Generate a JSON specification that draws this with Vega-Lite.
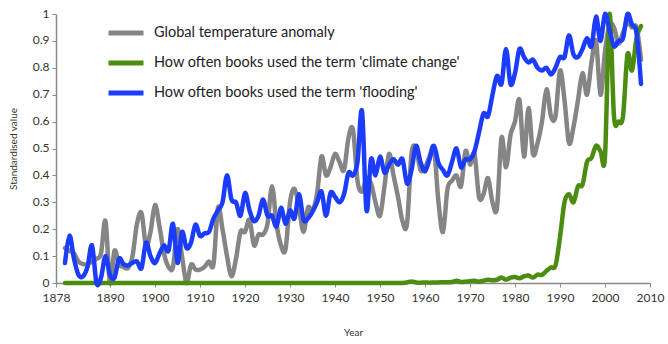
{
  "$schema": "https://vega.github.io/schema/vega-lite/v6.json",
  "width": 594,
  "height": 269,
  "autosize": {"type": "none"},
  "padding": {"left": 56, "top": 14, "right": 18, "bottom": 61},
  "background": "white",
  "config": {"view": {"stroke": null}, "font": "Lato"},
  "data": {"values": [
    {"year":1880,"temp":0.13,"climate":0,"flooding":0.074},
    {"year":1881,"temp":0.12,"climate":0,"flooding":0.176},
    {"year":1882,"temp":0.11,"climate":0,"flooding":0.09},
    {"year":1883,"temp":0.08,"climate":0,"flooding":0.03},
    {"year":1884,"temp":0.07,"climate":0,"flooding":0.025},
    {"year":1885,"temp":0.07,"climate":0,"flooding":0.06},
    {"year":1886,"temp":0.08,"climate":0,"flooding":0.14},
    {"year":1887,"temp":0.09,"climate":0,"flooding":0.0},
    {"year":1888,"temp":0.11,"climate":0,"flooding":0.02},
    {"year":1889,"temp":0.23,"climate":0,"flooding":0.10},
    {"year":1890,"temp":0.0,"climate":0,"flooding":0.03},
    {"year":1891,"temp":0.12,"climate":0,"flooding":0.02},
    {"year":1892,"temp":0.07,"climate":0,"flooding":0.09},
    {"year":1893,"temp":0.06,"climate":0,"flooding":0.07},
    {"year":1894,"temp":0.056,"climate":0,"flooding":0.065},
    {"year":1895,"temp":0.10,"climate":0,"flooding":0.075},
    {"year":1896,"temp":0.22,"climate":0,"flooding":0.08},
    {"year":1897,"temp":0.26,"climate":0,"flooding":0.055},
    {"year":1898,"temp":0.14,"climate":0,"flooding":0.15},
    {"year":1899,"temp":0.19,"climate":0,"flooding":0.10},
    {"year":1900,"temp":0.29,"climate":0,"flooding":0.074},
    {"year":1901,"temp":0.21,"climate":0,"flooding":0.11},
    {"year":1902,"temp":0.11,"climate":0,"flooding":0.14},
    {"year":1903,"temp":0.06,"climate":0,"flooding":0.12},
    {"year":1904,"temp":0.06,"climate":0,"flooding":0.22},
    {"year":1905,"temp":0.20,"climate":0,"flooding":0.075},
    {"year":1906,"temp":0.10,"climate":0,"flooding":0.19},
    {"year":1907,"temp":0.0,"climate":0,"flooding":0.13},
    {"year":1908,"temp":0.068,"climate":0,"flooding":0.15},
    {"year":1909,"temp":0.05,"climate":0,"flooding":0.217},
    {"year":1910,"temp":0.05,"climate":0,"flooding":0.175},
    {"year":1911,"temp":0.06,"climate":0,"flooding":0.185},
    {"year":1912,"temp":0.08,"climate":0,"flooding":0.19},
    {"year":1913,"temp":0.07,"climate":0,"flooding":0.24},
    {"year":1914,"temp":0.28,"climate":0,"flooding":0.27},
    {"year":1915,"temp":0.20,"climate":0,"flooding":0.30},
    {"year":1916,"temp":0.10,"climate":0,"flooding":0.40},
    {"year":1917,"temp":0.025,"climate":0,"flooding":0.31},
    {"year":1918,"temp":0.09,"climate":0,"flooding":0.30},
    {"year":1919,"temp":0.19,"climate":0,"flooding":0.25},
    {"year":1920,"temp":0.19,"climate":0,"flooding":0.335},
    {"year":1921,"temp":0.235,"climate":0,"flooding":0.27},
    {"year":1922,"temp":0.14,"climate":0,"flooding":0.23},
    {"year":1923,"temp":0.18,"climate":0,"flooding":0.25},
    {"year":1924,"temp":0.18,"climate":0,"flooding":0.31},
    {"year":1925,"temp":0.22,"climate":0,"flooding":0.25},
    {"year":1926,"temp":0.36,"climate":0,"flooding":0.25},
    {"year":1927,"temp":0.22,"climate":0,"flooding":0.21},
    {"year":1928,"temp":0.14,"climate":0,"flooding":0.28},
    {"year":1929,"temp":0.125,"climate":0,"flooding":0.22},
    {"year":1930,"temp":0.30,"climate":0,"flooding":0.27},
    {"year":1931,"temp":0.35,"climate":0,"flooding":0.24},
    {"year":1932,"temp":0.28,"climate":0,"flooding":0.33},
    {"year":1933,"temp":0.19,"climate":0,"flooding":0.235},
    {"year":1934,"temp":0.28,"climate":0,"flooding":0.24},
    {"year":1935,"temp":0.27,"climate":0,"flooding":0.265},
    {"year":1936,"temp":0.33,"climate":0,"flooding":0.30},
    {"year":1937,"temp":0.47,"climate":0,"flooding":0.34},
    {"year":1938,"temp":0.40,"climate":0,"flooding":0.25},
    {"year":1939,"temp":0.43,"climate":0,"flooding":0.335},
    {"year":1940,"temp":0.48,"climate":0,"flooding":0.32},
    {"year":1941,"temp":0.45,"climate":0,"flooding":0.30},
    {"year":1942,"temp":0.42,"climate":0,"flooding":0.33},
    {"year":1943,"temp":0.54,"climate":0,"flooding":0.41},
    {"year":1944,"temp":0.57,"climate":0,"flooding":0.40},
    {"year":1945,"temp":0.38,"climate":0,"flooding":0.45},
    {"year":1946,"temp":0.34,"climate":0,"flooding":0.64},
    {"year":1947,"temp":0.39,"climate":0,"flooding":0.27},
    {"year":1948,"temp":0.37,"climate":0,"flooding":0.46},
    {"year":1949,"temp":0.30,"climate":0,"flooding":0.40},
    {"year":1950,"temp":0.25,"climate":0,"flooding":0.47},
    {"year":1951,"temp":0.36,"climate":0,"flooding":0.41},
    {"year":1952,"temp":0.48,"climate":0,"flooding":0.44},
    {"year":1953,"temp":0.40,"climate":0,"flooding":0.46},
    {"year":1954,"temp":0.32,"climate":0,"flooding":0.44},
    {"year":1955,"temp":0.23,"climate":0,"flooding":0.46},
    {"year":1956,"temp":0.22,"climate":0.002,"flooding":0.37},
    {"year":1957,"temp":0.48,"climate":0.006,"flooding":0.42},
    {"year":1958,"temp":0.50,"climate":0.002,"flooding":0.51},
    {"year":1959,"temp":0.42,"climate":0.001,"flooding":0.45},
    {"year":1960,"temp":0.43,"climate":0.002,"flooding":0.415},
    {"year":1961,"temp":0.47,"climate":0.001,"flooding":0.46},
    {"year":1962,"temp":0.50,"climate":0.002,"flooding":0.51},
    {"year":1963,"temp":0.30,"climate":0.002,"flooding":0.445},
    {"year":1964,"temp":0.19,"climate":0.003,"flooding":0.42},
    {"year":1965,"temp":0.35,"climate":0.003,"flooding":0.40},
    {"year":1966,"temp":0.38,"climate":0.004,"flooding":0.45},
    {"year":1967,"temp":0.40,"climate":0.008,"flooding":0.50},
    {"year":1968,"temp":0.36,"climate":0.004,"flooding":0.43},
    {"year":1969,"temp":0.49,"climate":0.005,"flooding":0.46},
    {"year":1970,"temp":0.44,"climate":0.007,"flooding":0.46},
    {"year":1971,"temp":0.48,"climate":0.008,"flooding":0.49},
    {"year":1972,"temp":0.32,"climate":0.005,"flooding":0.56},
    {"year":1973,"temp":0.33,"climate":0.009,"flooding":0.63},
    {"year":1974,"temp":0.39,"climate":0.012,"flooding":0.62},
    {"year":1975,"temp":0.30,"climate":0.01,"flooding":0.70},
    {"year":1976,"temp":0.28,"climate":0.012,"flooding":0.77},
    {"year":1977,"temp":0.54,"climate":0.02,"flooding":0.74},
    {"year":1978,"temp":0.43,"climate":0.012,"flooding":0.87},
    {"year":1979,"temp":0.55,"climate":0.02,"flooding":0.74},
    {"year":1980,"temp":0.60,"climate":0.022,"flooding":0.78},
    {"year":1981,"temp":0.68,"climate":0.018,"flooding":0.87},
    {"year":1982,"temp":0.47,"climate":0.025,"flooding":0.84},
    {"year":1983,"temp":0.65,"climate":0.028,"flooding":0.82},
    {"year":1984,"temp":0.48,"climate":0.02,"flooding":0.83},
    {"year":1985,"temp":0.52,"climate":0.031,"flooding":0.80},
    {"year":1986,"temp":0.60,"climate":0.03,"flooding":0.79},
    {"year":1987,"temp":0.72,"climate":0.045,"flooding":0.80},
    {"year":1988,"temp":0.62,"climate":0.058,"flooding":0.775},
    {"year":1989,"temp":0.62,"climate":0.065,"flooding":0.80},
    {"year":1990,"temp":0.79,"climate":0.17,"flooding":0.84},
    {"year":1991,"temp":0.68,"climate":0.30,"flooding":0.84},
    {"year":1992,"temp":0.52,"climate":0.33,"flooding":0.92},
    {"year":1993,"temp":0.58,"climate":0.30,"flooding":0.85},
    {"year":1994,"temp":0.68,"climate":0.36,"flooding":0.84},
    {"year":1995,"temp":0.78,"climate":0.365,"flooding":0.87},
    {"year":1996,"temp":0.70,"climate":0.45,"flooding":0.91},
    {"year":1997,"temp":0.82,"climate":0.465,"flooding":0.88},
    {"year":1998,"temp":0.90,"climate":0.51,"flooding":0.99},
    {"year":1999,"temp":0.70,"climate":0.49,"flooding":0.90},
    {"year":2000,"temp":0.86,"climate":0.47,"flooding":1.0},
    {"year":2001,"temp":0.96,"climate":1.0,"flooding":0.94},
    {"year":2002,"temp":0.95,"climate":0.62,"flooding":0.88},
    {"year":2003,"temp":0.89,"climate":0.60,"flooding":0.90},
    {"year":2004,"temp":0.93,"climate":0.62,"flooding":0.91},
    {"year":2005,"temp":0.97,"climate":0.85,"flooding":1.0},
    {"year":2006,"temp":0.95,"climate":0.79,"flooding":0.96},
    {"year":2007,"temp":0.95,"climate":0.91,"flooding":0.93},
    {"year":2008,"temp":0.83,"climate":0.955,"flooding":0.74}
  ]},
  "transform": [{"fold": ["temp", "climate", "flooding"], "as": ["series", "value"]}],
  "mark": {"type": "line", "interpolate": "cardinal", "strokeWidth": 4.5, "strokeCap": "round", "strokeJoin": "round"},
  "encoding": {
    "x": {
      "field": "year", "type": "quantitative",
      "scale": {"domain": [1878, 2010], "nice": false, "zero": false},
      "axis": {
        "values": [1878, 1890, 1900, 1910, 1920, 1930, 1940, 1950, 1960, 1970, 1980, 1990, 2000, 2010],
        "format": "d", "labelFlush": false,
        "title": "Year", "grid": false,
        "domainColor": "#8a8a8a", "tickColor": "#8a8a8a", "tickSize": 4, "domainWidth": 1.5,
        "labelFontSize": 12, "labelColor": "#333333", "labelPadding": 5,
        "titleFontSize": 10, "titleFontWeight": "normal", "titleColor": "#333333", "titlePadding": 24
      }
    },
    "y": {
      "field": "value", "type": "quantitative",
      "scale": {"domain": [0, 1], "nice": false},
      "axis": {
        "values": [0, 0.1, 0.2, 0.3, 0.4, 0.5, 0.6, 0.7, 0.8, 0.9, 1],
        "format": ".1~f", "labelFlush": false, "labelOffset": -1,
        "grid": false,
        "title": "Standardised value",
        "domainColor": "#8a8a8a", "tickColor": "#8a8a8a", "tickSize": 4, "domainWidth": 1.5,
        "labelFontSize": 12, "labelColor": "#333333", "labelPadding": 3,
        "titleFontSize": 10, "titleFontWeight": "normal", "titleColor": "#333333", "titlePadding": 14
      }
    },
    "color": {
      "field": "series", "type": "nominal",
      "scale": {"domain": ["temp", "climate", "flooding"], "range": ["#858585", "#4c8c11", "#1b3cfb"]},
      "legend": {
        "orient": "none", "legendX": 50, "legendY": -1,
        "title": null, "padding": 0,
        "symbolType": "stroke", "symbolSize": 1225, "symbolStrokeWidth": 5,
        "labelFontSize": 14.5, "labelColor": "#222222", "labelOffset": 8, "labelLimit": 500,
        "rowPadding": -5,
        "labelExpr": "datum.value == 'temp' ? 'Global temperature anomaly' : datum.value == 'climate' ? \"How often books used the term 'climate change'\" : \"How often books used the term 'flooding'\""
      }
    }
  }
}
